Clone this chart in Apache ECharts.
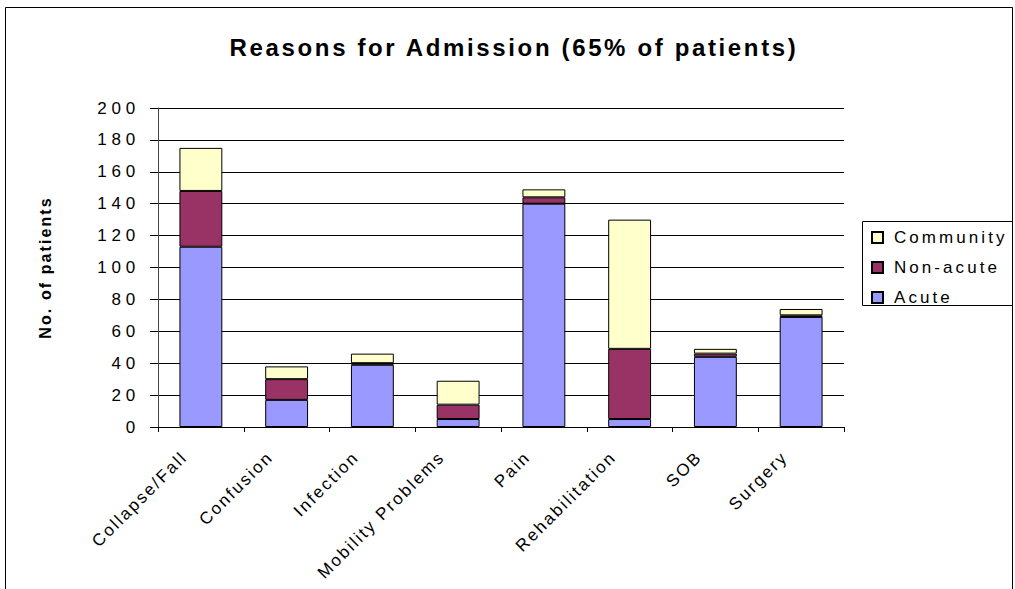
<!DOCTYPE html>
<html>
<head>
<meta charset="utf-8">
<script src="https://cdn.jsdelivr.net/npm/echarts@6/dist/echarts.min.js"></script>
<style>
  html, body { margin: 0; padding: 0; background: #fff; }
  #chart { width: 1015px; height: 589px; }
</style>
</head>
<body>
<div id="chart"></div>
<script>
// Admission reasons, stacked by care type
const categories = ['Collapse/Fall', 'Confusion', 'Infection', 'Mobility Problems', 'Pain', 'Rehabilitation', 'SOB', 'Surgery'];
const acute = [113, 17, 39, 5, 140, 5, 44, 69];
const nonAcute = [35, 13, 1, 9, 4, 44, 2, 1];
const community = [27, 8, 6, 15, 5, 81, 3, 4];
const yTicks = { min: 0, max: 200, interval: 20 };
const legendNames = ['Community', 'Non-acute', 'Acute'];
const titleText = 'Reasons for Admission (65% of patients)';
const yName = 'No. of patients';

const FONT = '"Liberation Sans", Arial, sans-serif';
const chart = echarts.init(document.getElementById('chart'), null, { renderer: 'svg' });

const barStyle = color => ({ color: color, borderColor: '#000', borderWidth: 1 });

chart.setOption({
  animation: false,
  backgroundColor: '#fff',
  textStyle: { fontFamily: FONT, color: '#000' },
  graphic: [
    { // outer frame
      type: 'rect',
      shape: { x: 5.5, y: 7.5, width: 1007, height: 640 },
      style: { fill: 'none', stroke: '#000', lineWidth: 1 },
      silent: true
    },
    { // legend frame
      type: 'rect',
      shape: { x: 862.5, y: 221.5, width: 150, height: 84 },
      style: { fill: '#fff', stroke: '#000', lineWidth: 1 },
      silent: true, z: -1
    }
  ],
  title: {
    text: titleText,
    left: 509, top: 30, textAlign: 'center',
    textStyle: { fontFamily: FONT, fontSize: 24, fontWeight: 'bold', color: '#000' }
  },
  legend: {
    data: legendNames,
    orient: 'vertical',
    left: 871, top: 229,
    padding: 0,
    itemGap: 13,
    itemWidth: 11, itemHeight: 11,
    icon: 'rect',
    textStyle: { fontFamily: FONT, fontSize: 17, color: '#000', padding: [0, 0, 0, 6] }
  },
  grid: { left: 158, right: 171, top: 108, bottom: 162, containLabel: false },
  xAxis: {
    type: 'category',
    data: categories,
    axisLine: { lineStyle: { color: '#000', width: 1 } },
    axisTick: { show: true, length: 5, lineStyle: { color: '#000' } },
    axisLabel: {
      interval: 0, rotate: 45, margin: 11,
      padding: [0, 23, 0, 0],
      fontFamily: FONT, fontSize: 17, color: '#000'
    }
  },
  yAxis: {
    type: 'value',
    min: yTicks.min, max: yTicks.max, interval: yTicks.interval,
    name: yName,
    nameLocation: 'middle',
    nameGap: 105,
    nameTextStyle: { fontFamily: FONT, fontSize: 16, fontWeight: 'bold', color: '#000' },
    axisLine: { show: true, lineStyle: { color: '#444', width: 1 } },
    axisTick: { show: true, length: 8, lineStyle: { color: '#000' } },
    axisLabel: { margin: 18, fontFamily: FONT, fontSize: 17, color: '#000' },
    splitLine: { show: true, lineStyle: { color: '#000', width: 1 } }
  },
  series: [
    { name: 'Acute', type: 'bar', stack: 'total', data: acute, barWidth: '50%', itemStyle: barStyle('#9999FF') },
    { name: 'Non-acute', type: 'bar', stack: 'total', data: nonAcute, barWidth: '50%', itemStyle: barStyle('#993366') },
    { name: 'Community', type: 'bar', stack: 'total', data: community, barWidth: '50%', itemStyle: barStyle('#FFFFCC') }
  ]
});

// Wide, spread-out lettering for each kind of text
function spacingFor(txt) {
  if (/^\d+$/.test(txt)) return '0.28em';
  if (txt === titleText) return '0.11em';
  if (txt === yName) return '0.13em';
  if (legendNames.indexOf(txt) >= 0) return '0.18em';
  if (categories.indexOf(txt) >= 0) return '0.13em';
  return null;
}
function applySpacing() {
  document.querySelectorAll('#chart svg text').forEach(t => {
    const ls = spacingFor(t.textContent.trim());
    if (ls) t.style.letterSpacing = ls;
  });
}
applySpacing();
chart.on('finished', applySpacing);
</script>
</body>
</html>
